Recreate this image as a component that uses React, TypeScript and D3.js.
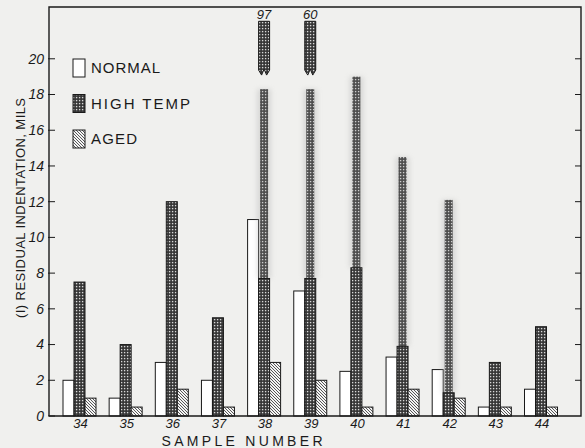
import React from 'react';
import * as d3 from 'd3';

const samples = ['34', '35', '36', '37', '38', '39', '40', '41', '42', '43', '44'];
const normal = [2, 1, 3, 2, 11, 7, 2.5, 3.3, 2.6, 0.5, 1.5];
const highTemp = [7.5, 4, 12, 5.5, 7.7, 7.7, 8.3, 3.9, 1.3, 3, 5];
const highTempPeak: (number | null)[] = [null, null, null, null, 18.3, 18.3, 19, 14.5, 12.1, null, null];
const aged = [1, 0.5, 1.5, 0.5, 3, 2, 0.5, 1.5, 1, 0.5, 0.5];
const offScaleLabels: (string | null)[] = [null, null, null, null, '97', '60', null, null, null, null, null];
const yTicks = [0, 2, 4, 6, 8, 10, 12, 14, 16, 18, 20];
const legendItems = ['NORMAL', 'HIGH TEMP', 'AGED'];
const legendFills = ['#fff', 'url(#pHigh)', 'url(#pAged)'];
const legendTextLen = [69, 99, 46];

export default function App() {
  const W = 585, H = 448;
  const left = 49, right = 581, top = 7, bottom = 416;
  const y = d3.scaleLinear().domain([0, 22.9]).range([bottom, top]);
  const x = d3.scaleBand<string>().domain(samples).range([63, 557.5]).paddingInner(0.285).paddingOuter(0);
  const sub = d3.scaleBand<string>().domain(['n', 'h', 'a']).range([0, x.bandwidth()]);
  const bw = sub.bandwidth();
  const font = "'Liberation Sans', 'DejaVu Sans', Arial, sans-serif";
  const ink = '#1a1a1a';

  return (
    <svg width={W} height={H} style={{ position: 'absolute', left: 0, top: 0, display: 'block' }}>
      <defs>
        <pattern id="pHigh" width="3" height="3" patternUnits="userSpaceOnUse">
          <rect width="3" height="3" fill="#333" />
          <rect x="0.9" y="0.9" width="1.4" height="1.4" fill="#d8d8d8" />
        </pattern>
        <pattern id="pHighLight" width="3" height="3" patternUnits="userSpaceOnUse">
          <rect width="3" height="3" fill="#333" />
          <rect x="0.9" y="0.9" width="1.4" height="1.4" fill="#ccc" />
        </pattern>
        <pattern id="pAged" width="3" height="3" patternUnits="userSpaceOnUse">
          <rect width="3" height="3" fill="#f4f4f4" />
          <path d="M-1,-1L4,4M-1,2L1,4M2,-1L4,1" stroke="#444" strokeWidth="0.9" />
        </pattern>
        <filter id="blurHalo" x="-2" y="-0.2" width="5" height="1.4">
          <feGaussianBlur stdDeviation="2.5" />
        </filter>
        <filter id="blurSoft" x="-1" y="-0.1" width="3" height="1.2">
          <feGaussianBlur stdDeviation="0.5" />
        </filter>
      </defs>
      <rect width={W} height={H} fill="#f0f0ee" />

      {/* bars */}
      {samples.map((s, i) => {
        const gx = x(s)!;
        const xn = gx + sub('n')!;
        const xh = gx + sub('h')!;
        const xa = gx + sub('a')!;
        const peak = highTempPeak[i];
        const lab = offScaleLabels[i];
        const cx = xh + bw / 2;
        return (
          <g key={s}>
            <rect x={xn} y={y(normal[i])} width={bw} height={bottom - y(normal[i])} fill="#fff" stroke={ink} strokeWidth={1} />
            {peak !== null && (
              <g>
                <rect x={cx - 7} y={y(peak)} width={14} height={y(highTemp[i]) - y(peak)} fill="#aaa" opacity={0.35} filter="url(#blurHalo)" />
                <rect x={cx - 4} y={y(peak)} width={8} height={y(highTemp[i]) - y(peak)} fill="url(#pHighLight)" opacity={0.85} filter="url(#blurSoft)" />
              </g>
            )}
            <rect x={xh} y={y(highTemp[i])} width={bw} height={bottom - y(highTemp[i])} fill="url(#pHigh)" stroke={ink} strokeWidth={1} />
            <rect x={xa} y={y(aged[i])} width={bw} height={bottom - y(aged[i])} fill="url(#pAged)" stroke={ink} strokeWidth={1} />
            {lab !== null && (() => {
              const t = y(22.1), b = y(19.2);
              const x0 = xh, x1 = xh + bw;
              const pts = [[x0, t], [x1, t], [x1, b - 3], [x1 - 3, b + 2], [cx, b - 4], [x0 + 3, b + 2], [x0, b - 3]];
              return (
                <g>
                  <polygon points={pts.map(p => p.join(',')).join(' ')} fill="url(#pHigh)" stroke={ink} strokeWidth={1} />
                  <text x={cx} y={19} textAnchor="middle" fontFamily={font} fontStyle="italic" fontSize={13} fill={ink}>{lab}</text>
                </g>
              );
            })()}
          </g>
        );
      })}

      {/* frame */}
      <path d={`M${left},${bottom}V${top}H${right}V${bottom}H${left}`} fill="none" stroke={ink} strokeWidth={1.4} />
      {yTicks.map(t => (
        <g key={t}>
          <line x1={left - 1} x2={left + 6} y1={y(t)} y2={y(t)} stroke={ink} strokeWidth={1} />
          {t > 0 && <line x1={right - 6} x2={right} y1={y(t)} y2={y(t)} stroke={ink} strokeWidth={1} />}
          <text x={44} y={y(t)} dy="0.35em" textAnchor="end" fontFamily={font} fontStyle="italic" fontSize={14} fill={ink}>{t}</text>
        </g>
      ))}
      {samples.map(s => (
        <text key={s} x={x(s)! + x.bandwidth() / 2 + 1} y={428} textAnchor="middle" fontFamily={font} fontStyle="italic" fontSize={13} fill={ink}>{s}</text>
      ))}
      <text x={242} y={446} textAnchor="middle" fontFamily={font} fontSize={14} textLength={161} lengthAdjust="spacing" fill={ink}>SAMPLE  NUMBER</text>
      <text transform="translate(25,208) rotate(-90)" textAnchor="middle" fontFamily={font} fontSize={13} textLength={220} lengthAdjust="spacing" fill={ink}>(I) RESIDUAL  INDENTATION, MILS</text>

      {/* legend */}
      {legendItems.map((l, i) => {
        const cy = 68 + i * 35.5;
        return (
          <g key={l}>
            <rect x={73} y={cy - 9} width={12} height={18} fill={legendFills[i]} stroke={ink} strokeWidth={1} />
            <text x={91} y={cy} dy="0.36em" fontFamily={font} fontSize={15} textLength={legendTextLen[i]} lengthAdjust="spacing" fill={ink}>{l}</text>
          </g>
        );
      })}
    </svg>
  );
}
